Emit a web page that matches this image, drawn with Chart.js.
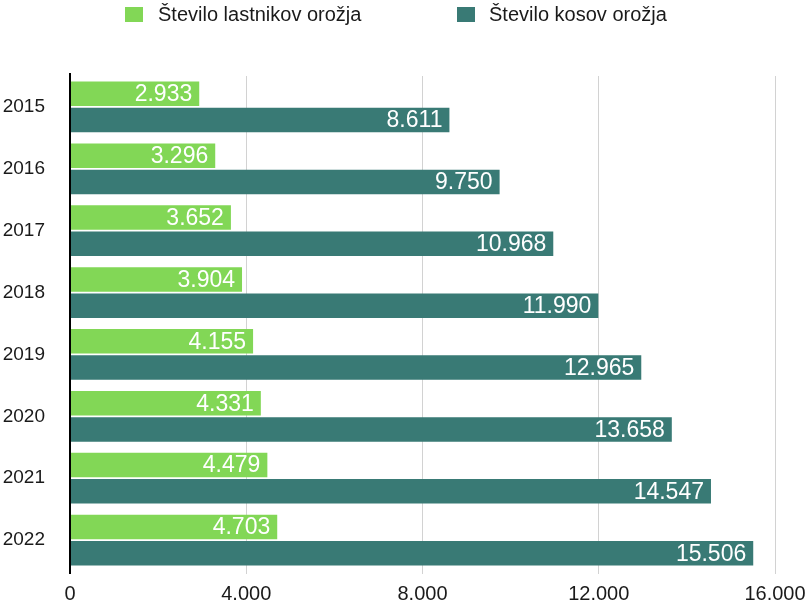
<!DOCTYPE html>
<html>
<head>
<meta charset="utf-8">
<script src="https://cdn.jsdelivr.net/npm/chart.js@4/dist/chart.umd.min.js"></script>
<style>
html,body{margin:0;padding:0;background:#fff;}
canvas{display:block;}
</style>
</head>
<body>
<canvas id="c" width="806" height="605"></canvas>
<script>
const years = ['2015','2016','2017','2018','2019','2020','2021','2022'];
const seriesNames = ['Število lastnikov orožja', 'Število kosov orožja'];
const owners = [2933, 3296, 3652, 3904, 4155, 4331, 4479, 4703];
const weapons = [8611, 9750, 10968, 11990, 12965, 13658, 14547, 15506];
const xTicks = [0, 4000, 8000, 12000, 16000];

const GREEN = '#82d756';
const TEAL = '#397a75';
const FONT = "'Liberation Sans', Arial, Helvetica, sans-serif";

function fmt(v){ return String(v).replace(/\B(?=(\d{3})+(?!\d))/g, '.'); }

const barLabels = {
  id: 'barLabels',
  afterDatasetsDraw(chart){
    const ctx = chart.ctx;
    ctx.save();
    ctx.font = '23px ' + FONT;
    ctx.fillStyle = '#ffffff';
    ctx.textAlign = 'right';
    ctx.textBaseline = 'middle';
    chart.data.datasets.forEach((ds, di) => {
      const meta = chart.getDatasetMeta(di);
      meta.data.forEach((bar, i) => {
        ctx.fillText(fmt(ds.data[i]), bar.x - 7, bar.y + 1);
      });
    });
    ctx.restore();
  }
};

const axisLine = {
  id: 'axisLine',
  afterDraw(chart){
    const ctx = chart.ctx;
    const x = chart.scales.x.getPixelForValue(0);
    const a = chart.chartArea;
    ctx.save();
    ctx.strokeStyle = '#000';
    ctx.lineWidth = 2;
    ctx.beginPath();
    ctx.moveTo(x, a.top - 3);
    ctx.lineTo(x, a.bottom + 3);
    ctx.stroke();
    ctx.restore();
  }
};

const customLegend = {
  id: 'customLegend',
  afterDraw(chart){
    const ctx = chart.ctx;
    const items = [
      {box: 125, text: 158, color: GREEN, label: seriesNames[0]},
      {box: 457, text: 489, color: TEAL, label: seriesNames[1]}
    ];
    ctx.save();
    ctx.font = '20px ' + FONT;
    ctx.textBaseline = 'middle';
    ctx.textAlign = 'left';
    items.forEach(it => {
      ctx.fillStyle = it.color;
      ctx.fillRect(it.box, 7, 18, 15);
      ctx.fillStyle = '#1a1a1a';
      ctx.fillText(it.label, it.text, 15);
    });
    ctx.restore();
  }
};

new Chart(document.getElementById('c'), {
  type: 'bar',
  data: {
    labels: years,
    datasets: [
      {label: seriesNames[0], data: owners, backgroundColor: GREEN, borderWidth: 0,
       categoryPercentage: 0.85, barPercentage: 0.93},
      {label: seriesNames[1], data: weapons, backgroundColor: TEAL, borderWidth: 0,
       categoryPercentage: 0.85, barPercentage: 0.93}
    ]
  },
  options: {
    indexAxis: 'y',
    responsive: false,
    animation: false,
    devicePixelRatio: 1,
    layout: {padding: {top: 76, left: 0, right: 0, bottom: 0}},
    plugins: {
      legend: {display: false},
      tooltip: {enabled: false}
    },
    scales: {
      x: {
        min: 0, max: 16000,
        afterBuildTicks(scale){ scale.ticks = xTicks.map(v => ({value: v})); },
        afterFit(scale){ scale.height = 34; scale.paddingLeft = 0; scale.paddingRight = 31; },
        ticks: {
          callback: v => fmt(v),
          color: '#1a1a1a',
          font: {family: FONT, size: 20},
          padding: 8,
          maxRotation: 0
        },
        grid: {color: '#d2d2d2', lineWidth: 1, drawTicks: true, tickLength: 3},
        border: {display: false}
      },
      y: {
        afterFit(scale){ scale.width = 70; scale.paddingTop = 0; scale.paddingBottom = 0; },
        ticks: {
          color: '#1a1a1a',
          font: {family: FONT, size: 19},
          padding: 25
        },
        grid: {display: false, drawTicks: false},
        border: {display: false}
      }
    }
  },
  plugins: [barLabels, axisLine, customLegend]
});
</script>
</body>
</html>
